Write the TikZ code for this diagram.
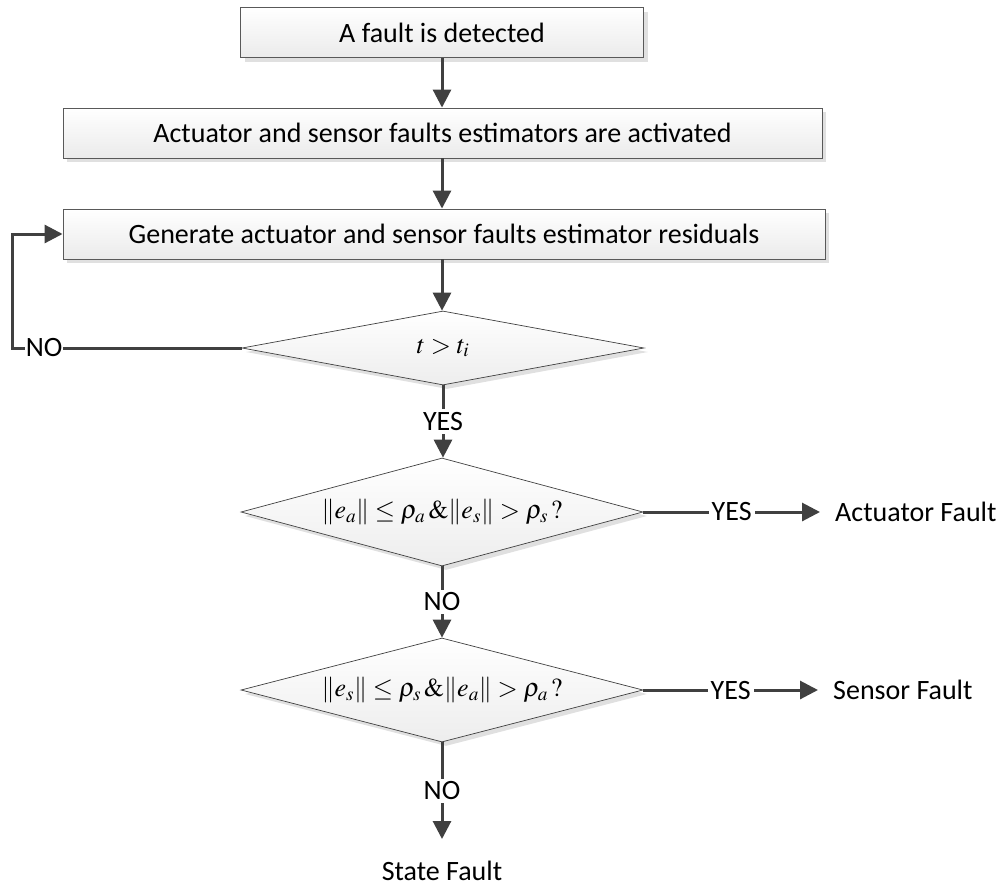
\documentclass[tikz,border=0pt]{standalone}
\usepackage{mathptmx}
\usepackage{fontspec}
\setmainfont{Carlito}
\usetikzlibrary{shapes.geometric,arrows.meta,shadows}
\definecolor{edgegray}{HTML}{404040}
\begin{document}
\begin{tikzpicture}[x=1pt,y=-1pt,
  every node/.style={font=\fontsize{28}{33}\selectfont},
  softshadow/.style={drop shadow={shadow xshift=4pt,shadow yshift=-4pt,fill=black!12,opacity=1}},
  procbox/.style={rectangle, draw=black!65, line width=0.9pt, top color=white,
    bottom color=black!8, softshadow, minimum height=50pt, inner sep=0pt},
  decision/.style={diamond, aspect=5, draw=black!75, line width=0.7pt, top color=white,
    bottom color=black!7, softshadow, minimum width=402pt, inner sep=0pt,
    font=\fontsize{26}{31}\selectfont},
  flow/.style={draw=edgegray, line width=3pt, -{Triangle[length=18pt,width=18pt]}},
  lbl/.style={fill=white, inner sep=3pt},
  outcome/.style={inner sep=0pt}
]
\useasboundingbox (0,0) rectangle (1003,886);

% process boxes
\node[procbox, minimum width=403pt] (b1) at (442,32.5) {A fault is detected};
\node[procbox, minimum width=759pt] (b2) at (442.5,133) {Actuator and sensor faults estimators are activated};
\node[procbox, minimum width=762pt] (b3) at (444,234) {Generate actuator and sensor faults estimator residuals};

% decisions
\node[decision, minimum height=74pt] (d1) at (443,348) {$t>t_i$};
\node[decision, minimum height=108pt] (d2) at (442,512) {$\|e_a\|\le\rho_a\,\&\|e_s\|>\rho_s\,?$};
\node[decision, minimum height=104pt] (d3) at (442,690) {$\|e_s\|\le\rho_s\,\&\|e_a\|>\rho_a\,?$};

% outcomes
\node[outcome, anchor=west, inner xsep=15pt] (af) at (820,512) {Actuator Fault};
\node[outcome, anchor=west, inner xsep=15pt] (sf) at (818,690) {Sensor Fault};
\node[outcome, anchor=north, inner ysep=22pt] (stf) at (442,839) {State Fault};

% main flow
\draw[flow] (b1.south) -- (b1.south |- b2.north);
\draw[flow] (b1.south |- b2.south) -- (b1.south |- b3.north);
\draw[flow] (b1.south |- b3.south) -- (b1.south |- d1.north);
\draw[flow] (d1.south) -- node[lbl]{YES} (d1.south |- d2.north);
\draw[flow] (d2.south) -- node[lbl]{NO} (d2.south |- d3.north);
\draw[flow] (d3.south) -- node[lbl]{NO} (stf.north);

% branches to the right
\draw[flow] (d2.east) -- node[lbl]{YES} (af.west);
\draw[flow] (d3.east) -- node[lbl]{YES} (sf.west);

% loop back when t <= t_i
\coordinate (loop) at (12,348);
\draw[flow] (d1.west) -- node[lbl, pos=0.86, inner sep=1pt]{NO} (loop) |- (b3.west);
\end{tikzpicture}
\end{document}
